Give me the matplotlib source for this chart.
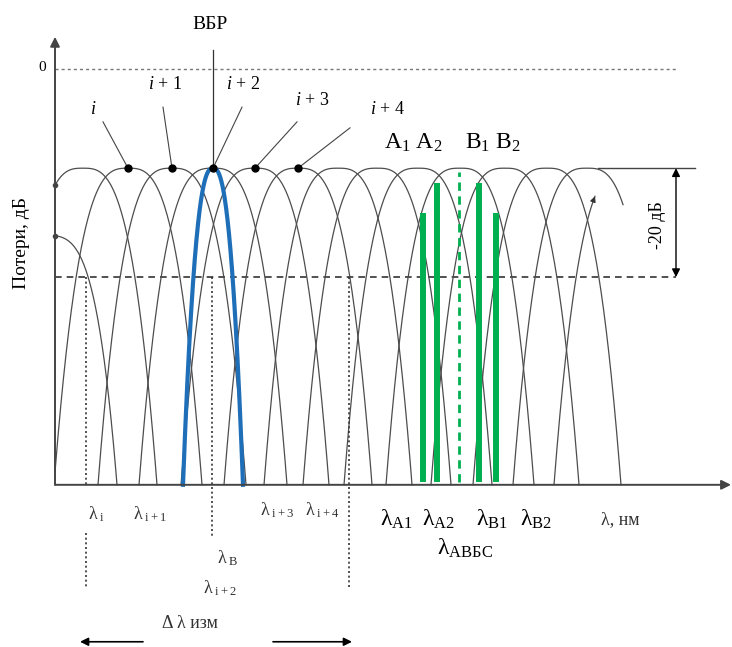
import numpy as np
import matplotlib
matplotlib.use('Agg')
import matplotlib.pyplot as plt

plt.rcParams['font.family'] = ['Liberation Serif', 'DejaVu Serif']
plt.rcParams['mathtext.fontset'] = 'custom'
plt.rcParams['mathtext.rm'] = 'Liberation Serif'
plt.rcParams['mathtext.it'] = 'Liberation Serif:italic'
plt.rcParams['mathtext.bf'] = 'Liberation Serif:bold'

# ---------------------------------------------------------------------------
# data (x: wavelength, arbitrary units from the axis origin; y: loss, dB)
# ---------------------------------------------------------------------------
grating_centres = [28, 73, 117, 158, 200, 243, 283, 322, 363, 405, 450, 492, 532]
tail_centre = 573            # only the rising flank of this one is drawn
labelled_idx = [1, 2, 3, 4, 5]
labelled_names = ['$i$', '$i\\,+\\,1$', '$i\\,+\\,2$', '$i\\,+\\,3$', '$i\\,+\\,4$']

peak_db = -18.2
level_db = -38.2             # -20 dB below the peaks
floor_db = -76.3
half_width = 74

# first (partial) element at the left edge
edge_centre = -15
edge_width = 77
edge_peak_db = -30.5

# the measured FBG (blue)
fbg_centre = 158
fbg_width = 30

# two-component sensor lines (green)
green_pos = [368, 382, 424, 441]
green_top = [-26.4, -20.9, -20.9, -26.4]
green_bottom = -75.8
abbc_pos = 404
abbc_top = -18.9

# dotted wavelength markers
lam_i = 31
lam_b = 157
lam_i4 = 294


def arch(c, w, top, floor, p, x0=None, x1=None, n=400):
    x = np.linspace(c - w if x0 is None else x0, c + w if x1 is None else x1, n)
    y = top - (top - floor) * np.abs((x - c) / w) ** p
    return x, y


fig = plt.figure(figsize=(7.32, 6.47), dpi=100)
ax = fig.add_axes([0, 0, 1, 1])
ax.set_xlim(-55, 677)
ax.set_ylim(-106.06, 12.66)
ax.axis('off')

curve_kw = dict(color='#4d4d4d', lw=0.9)

# reference levels
ax.plot([0, 621], [0, 0], color='#777777', lw=1.0, ls=(0, (2.2, 2.2)))
ax.plot([0, 621], [level_db, level_db], color='#333333', lw=1.2, ls=(0, (4, 3)))
ax.plot([543, 640], [peak_db, peak_db], color='#444444', lw=1.0)
ax.annotate('', xy=(621, peak_db), xytext=(621, level_db),
            arrowprops=dict(arrowstyle='<|-|>', color='black', lw=1.0,
                            mutation_scale=12, shrinkA=0, shrinkB=0))
ax.text(603, -28.6, '-20 дБ', rotation=90, ha='center', va='center', fontsize=13)

# grating spectra
for k, c in enumerate(grating_centres):
    x1 = c + 36 if k == len(grating_centres) - 1 else None
    x, y = arch(c, half_width, peak_db, floor_db, 3.0, x0=max(0, c - half_width), x1=x1)
    ax.plot(x, y, **curve_kw)
    if k == 0:
        ax.plot([0], [y[0]], 'o', color='#444444', ms=3)

x, y = arch(tail_centre, half_width, peak_db, floor_db, 3.0, x1=tail_centre - 33)
ax.plot(x, y, **curve_kw)
ax.annotate('', xy=(x[-1], y[-1]), xytext=(x[-12], y[-12]),
            arrowprops=dict(arrowstyle='-|>', color='#333333', lw=0.9,
                            mutation_scale=8, shrinkA=0, shrinkB=0))

x, y = arch(edge_centre, edge_width, edge_peak_db, floor_db, 3.8, x0=0)
ax.plot(x, y, **curve_kw)
ax.plot([0], [y[0]], 'o', color='#444444', ms=3)

# measured FBG
x, y = arch(fbg_centre, fbg_width, peak_db, floor_db, 2.5)
ax.plot(x, y, color='#1f6fb8', lw=3.0)
ax.plot([fbg_centre, fbg_centre], [3.5, peak_db], color='#333333', lw=0.9)
ax.text(fbg_centre - 3, 8.1, 'ВБР', ha='center', va='center', fontsize=14)

# peak dots and labels
label_xy = [(38, -7.5), (110, -2.9), (188, -2.9), (257, -5.7), (333, -7.5)]
leader_start = [(48, -9.7), (108, -7.0), (187, -7.0), (242, -9.7), (295, -10.8)]
for k, name, (tx, ty), (lx, ly) in zip(labelled_idx, labelled_names, label_xy, leader_start):
    c = grating_centres[k]
    ax.plot([lx, c], [ly, peak_db], color='#444444', lw=0.8)
    ax.plot([c], [peak_db], 'o', color='black', ms=5)
    ax.text(tx, ty, name, ha='center', va='center', fontsize=13)

# green sensor lines
for xp, top in zip(green_pos, green_top):
    ax.plot([xp, xp], [green_bottom, top], color='#00b050', lw=4.3, solid_capstyle='butt')
ax.plot([abbc_pos, abbc_pos], [green_bottom, abbc_top], color='#00b050', lw=2.0,
        ls=(0, (3, 2)))
ax.text(358, -13.6, r'$\mathrm{A}_1\ \mathrm{A}_2$', ha='center', va='center', fontsize=17)
ax.text(438, -13.6, r'$\mathrm{B}_1\ \mathrm{B}_2$', ha='center', va='center', fontsize=17)

# dotted markers
dot_kw = dict(color='#333333', lw=1.2, ls=(0, (1.2, 1.6)))
ax.plot([lam_i, lam_i], [level_db, -76.7], **dot_kw)
ax.plot([lam_i, lam_i], [-85.1, -95.0], **dot_kw)
ax.plot([lam_b, lam_b], [level_db, -85.9], **dot_kw)
ax.plot([lam_i4, lam_i4], [level_db, -95.0], **dot_kw)

# axes
ax.annotate('', xy=(676, floor_db), xytext=(0, floor_db),
            arrowprops=dict(arrowstyle='-|>', color='#444444', lw=1.4,
                            mutation_scale=14, shrinkA=0, shrinkB=0))
ax.annotate('', xy=(0, 5.9), xytext=(0, floor_db),
            arrowprops=dict(arrowstyle='-|>', color='#444444', lw=1.4,
                            mutation_scale=14, shrinkA=0, shrinkB=0))
ax.text(-13, 0.2, '0', ha='center', va='center', fontsize=11)
ax.text(-33, -32, 'Потери, дБ', rotation=90, ha='center', va='center', fontsize=14)

# wavelength labels
small = 13
ax.text(42, -81.6, r'$\mathrm{λ}_{\ \mathrm{i}}$', ha='center', va='center', fontsize=small, color='#333333')
ax.text(95, -81.6, r'$\mathrm{λ}_{\ \mathrm{i+1}}$', ha='center', va='center', fontsize=small, color='#333333')
ax.text(222, -81.0, r'$\mathrm{λ}_{\ \mathrm{i+3}}$', ha='center', va='center', fontsize=small, color='#333333')
ax.text(267, -81.0, r'$\mathrm{λ}_{\ \mathrm{i+4}}$', ha='center', va='center', fontsize=small, color='#333333')
ax.text(173, -89.7, r'$\mathrm{λ}_{\ \mathrm{B}}$', ha='center', va='center', fontsize=small, color='#333333')
ax.text(165, -95.2, r'$\mathrm{λ}_{\ \mathrm{i+2}}$', ha='center', va='center', fontsize=small, color='#333333')
ax.text(135, -101.7, 'Δ λ изм', ha='center', va='center', fontsize=small, color='#333333')
ax.annotate('', xy=(25, -105.1), xytext=(88, -105.1),
            arrowprops=dict(arrowstyle='-|>', color='black', lw=1.2,
                            mutation_scale=12, shrinkA=0, shrinkB=0))
ax.annotate('', xy=(297, -105.1), xytext=(218, -105.1),
            arrowprops=dict(arrowstyle='-|>', color='black', lw=1.2,
                            mutation_scale=12, shrinkA=0, shrinkB=0))

ax.text(341, -82.6, r'$\mathrm{λ}_{\mathrm{A1}}$', ha='center', va='center', fontsize=17)
ax.text(383, -82.6, r'$\mathrm{λ}_{\mathrm{A2}}$', ha='center', va='center', fontsize=17)
ax.text(437, -82.6, r'$\mathrm{λ}_{\mathrm{B1}}$', ha='center', va='center', fontsize=17)
ax.text(481, -82.6, r'$\mathrm{λ}_{\mathrm{B2}}$', ha='center', va='center', fontsize=17)
ax.text(410, -87.9, r'$\mathrm{λ}_{\mathrm{АВБС}}$', ha='center', va='center', fontsize=17)
ax.text(565, -82.6, 'λ, нм', ha='center', va='center', fontsize=13, color='#333333')

fig.savefig('out.png', dpi=100)
